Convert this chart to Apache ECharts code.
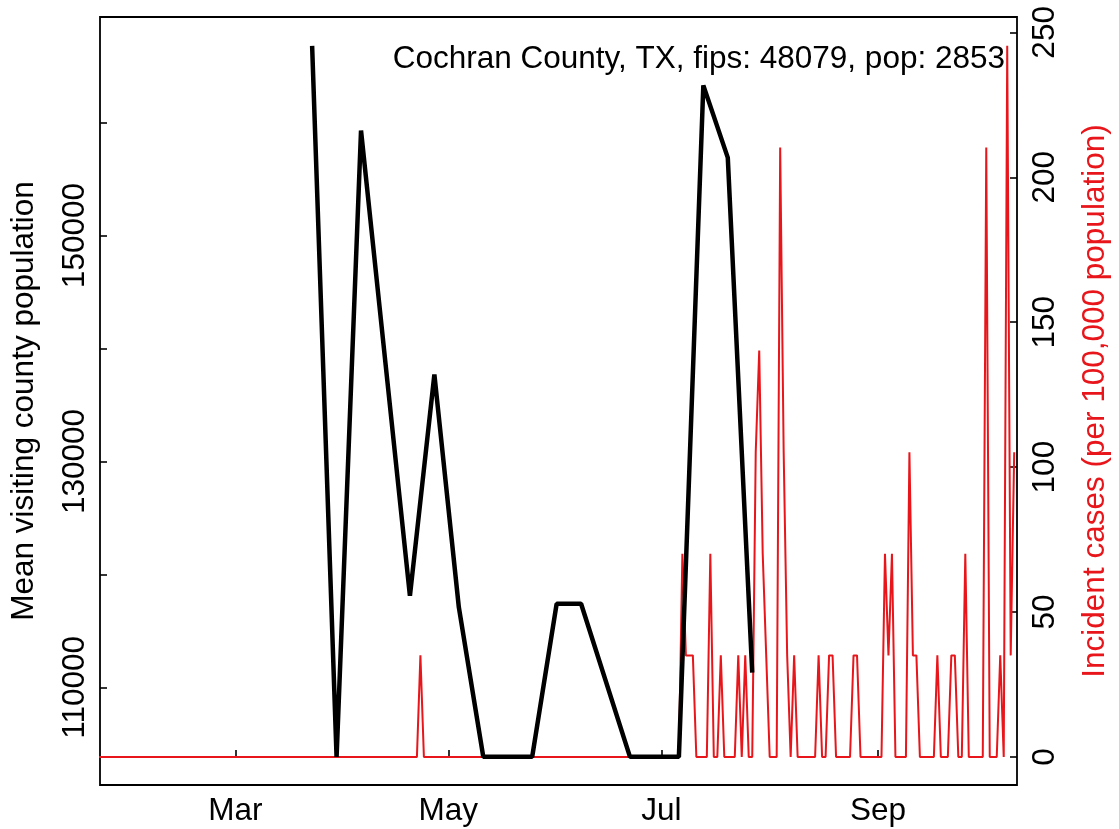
<!DOCTYPE html>
<html><head><meta charset="utf-8">
<script src="https://cdn.jsdelivr.net/npm/echarts@6/dist/echarts.min.js"></script>
<style>html,body{margin:0;padding:0;background:#fff}#c{width:1119px;height:829px}</style>
</head><body><div id="c"></div>
<script>
// ---------- data ----------
const chartTitle = 'Cochran County, TX, fips: 48079, pop: 2853';
const population = 2853;
const leftAxisName = 'Mean visiting county population';
const rightAxisName = 'Incident cases (per 100,000 population)';

const monthTickDates = ['2020-03-01', '2020-05-01', '2020-07-01', '2020-09-01'];
const monthTickLabels = ['Mar', 'May', 'Jul', 'Sep'];
const leftTickValues = [110000, 120000, 130000, 140000, 150000, 160000];
const leftLabelValues = [110000, 130000, 150000];
const rightTickValues = [0, 50, 100, 150, 200, 250];

// weekly mean visiting county population (black line)
const visitDates = ['2020-03-23', '2020-03-30', '2020-04-06', '2020-04-20', '2020-04-27',
  '2020-05-04', '2020-05-11', '2020-05-18', '2020-05-25', '2020-06-01', '2020-06-08',
  '2020-06-22', '2020-06-29', '2020-07-06', '2020-07-13', '2020-07-20', '2020-07-27'];
const visitValues = [166800, 103850, 159300, 118100, 137700,
  117100, 103850, 103850, 103850, 117400, 117400,
  103850, 103850, 103850, 163300, 156900, 111300];

// daily new cases (count), starting 2020-01-22 (red line, shown per 100,000)
const caseStartDate = '2020-01-22';
const dailyCases = [
  0,0,0,0,0,0,0,0,0,0,   // Jan 22 - Jan 31
  0,0,0,0,0,0,0,0,0,0,
  0,0,0,0,0,0,0,0,0,0,
  0,0,0,0,0,0,0,0,0,0,
  0,0,0,0,0,0,0,0,0,0,
  0,0,0,0,0,0,0,0,0,0,
  0,0,0,0,0,0,0,0,0,0,
  0,0,0,0,0,0,0,0,0,0,
  0,0,0,0,0,0,0,0,0,0,   // ... Apr 20
  0,0,1,0,0,0,0,0,0,0,   // Apr 21 - Apr 30
  0,0,0,0,0,0,0,0,0,0,
  0,0,0,0,0,0,0,0,0,0,
  0,0,0,0,0,0,0,0,0,0,
  0,0,0,0,0,0,0,0,0,0,
  0,0,0,0,0,0,0,0,0,0,
  0,0,0,0,0,0,0,0,0,0,   // ... Jun 29
  0,0,0,0,0,0,0,2,1,1,   // Jun 30 - Jul 9
  1,0,0,0,0,2,0,0,1,0,
  0,0,0,1,0,1,0,0,3,4,
  2,1,0,0,0,6,3,1,0,1,
  0,0,0,0,0,0,1,0,0,1,
  1,0,0,0,0,0,1,1,0,0,
  0,0,0,0,0,2,1,2,0,0,
  0,0,3,1,1,0,0,0,0,0,
  1,0,0,0,1,1,0,0,2,0,
  0,0,0,0,6,0,0,0,1,0,
  7,1,3                  // Oct 8 - Oct 10
];

// ---------- helpers ----------
function dayOfYear(s) {
  const d = new Date(s + 'T00:00:00Z');
  return Math.round((d.getTime() - Date.UTC(d.getUTCFullYear(), 0, 1)) / 86400000);
}
const monthTickDays = monthTickDates.map(dayOfYear);
const labelByDay = {};
monthTickDays.forEach((d, i) => { labelByDay[d] = monthTickLabels[i]; });

const visitSeries = visitDates.map((d, i) => [dayOfYear(d), visitValues[i]]);
const startDay = dayOfYear(caseStartDate);
const caseSeries = dailyCases.map((c, i) => [startDay + i, c * 100000 / population]);

const RED = '#e8161b';
const FONT = "'Liberation Sans', Arial, Helvetica, sans-serif";
const FS = 31.5;

const chart = echarts.init(document.getElementById('c'), null, { renderer: 'canvas' });
chart.setOption({
  animation: false,
  backgroundColor: '#fff',
  textStyle: { fontFamily: FONT },
  title: {
    text: chartTitle,
    right: 109, top: 38,
    textStyle: { fontFamily: FONT, fontSize: FS, fontWeight: 'normal', color: '#000', lineHeight: 32 }
  },
  grid: {
    left: 99, right: 98, top: 17, bottom: 44,
    show: true, borderColor: '#000', borderWidth: 1.8, backgroundColor: 'transparent'
  },
  xAxis: {
    type: 'value', min: 21.27, max: 283.8,
    axisLine: { show: false },
    splitLine: { show: false },
    axisTick: { show: true, inside: true, length: 7, customValues: monthTickDays, lineStyle: { color: '#000', width: 1.6 } },
    axisLabel: {
      customValues: monthTickDays, margin: 10,
      fontFamily: FONT, fontSize: FS, color: '#000',
      formatter: v => labelByDay[Math.round(v)] || ''
    }
  },
  yAxis: [{
    type: 'value', position: 'left', min: 101355, max: 169353,
    name: leftAxisName, nameLocation: 'middle', nameRotate: 90, nameGap: 60,
    nameTextStyle: { fontFamily: FONT, fontSize: FS, color: '#000' },
    axisLine: { show: false },
    splitLine: { show: false },
    axisTick: { show: true, inside: true, length: 7, customValues: leftTickValues, lineStyle: { color: '#000', width: 1.6 } },
    axisLabel: {
      customValues: leftLabelValues, rotate: 90, margin: 9,
      fontFamily: FONT, fontSize: FS, color: '#000',
      formatter: v => String(Math.round(v))
    }
  }, {
    type: 'value', position: 'right', min: -9.67, max: 255.3,
    name: rightAxisName, nameLocation: 'middle', nameRotate: 90, nameGap: 62,
    nameTextStyle: { fontFamily: FONT, fontSize: FS, color: RED },
    axisLine: { show: false },
    splitLine: { show: false },
    axisTick: { show: true, inside: true, length: 7, customValues: rightTickValues, lineStyle: { color: '#000', width: 1.6 } },
    axisLabel: {
      customValues: rightTickValues, rotate: 90, margin: 12,
      fontFamily: FONT, fontSize: FS, color: '#000',
      formatter: v => String(Math.round(v))
    }
  }],
  series: [{
    name: 'Mean visiting county population',
    type: 'line', yAxisIndex: 0, data: visitSeries,
    showSymbol: false, symbol: 'none', z: 3,
    lineStyle: { color: '#000', width: 4.5 }
  }, {
    name: 'Incident cases',
    type: 'line', yAxisIndex: 1, data: caseSeries,
    showSymbol: false, symbol: 'none', z: 2,
    lineStyle: { color: RED, width: 2 }
  }]
});
</script>
</body></html>
